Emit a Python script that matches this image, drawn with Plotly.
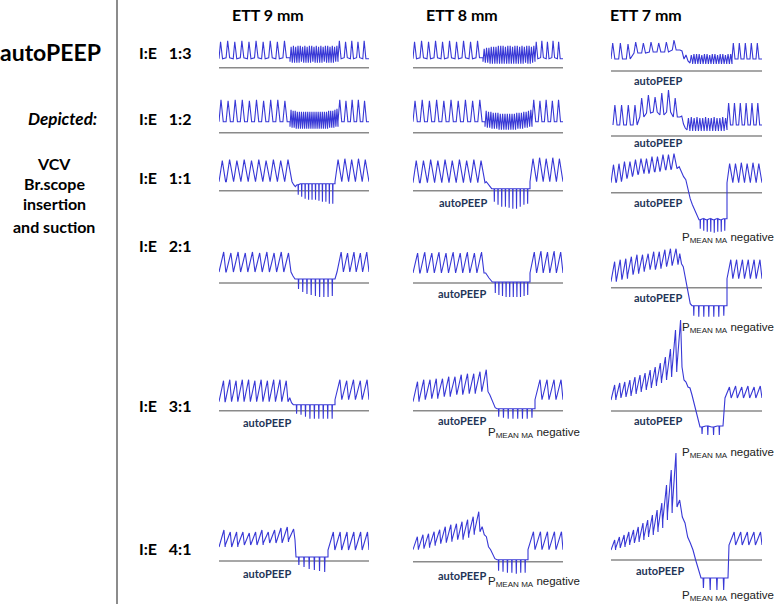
import plotly.graph_objects as go

W, H = 778, 604

# ---------------- labels ----------------
columns = ["ETT 9 mm", "ETT 8 mm", "ETT 7 mm"]
rows = ["I:E  1:3", "I:E  1:2", "I:E  1:1", "I:E  2:1", "I:E  3:1", "I:E  4:1"]

# ---------------- data (pressure, arbitrary units above the zero line) ----------------
# time marks per panel: [pre start, pre end, procedure start, procedure end, post start, post end]
# ETT 9 mm, I:E 1:3
c1r1_time = [0, 71, 71, 119, 119, 150]
c1r1_pre_peak = [26, 27, 26, 27, 26, 27, 26, 27, 26, 27]
c1r1_pre_trough = [9, 10, 9, 10, 9, 10, 9, 10, 9, 10]
c1r1_trans = []
c1r1_proc_hi = [21, 22, 21, 22, 22, 21, 22, 21, 22, 22, 21, 22, 21, 22, 21, 22, 22, 21, 22, 21, 22]
c1r1_proc_lo = [6, 5, 6, 5, 6, 6, 5, 6, 5, 6, 6, 5, 6, 5, 6, 6, 5, 6, 5, 6, 6]
c1r1_post_peak = [27, 26, 27, 26, 27]
c1r1_post_trough = [9, 10, 9, 10, 9]
# ETT 8 mm, I:E 1:3
c2r1_time = [0, 70, 70, 122, 122, 150]
c2r1_pre_peak = [26, 27, 26, 27, 26, 27, 26, 27, 26, 27]
c2r1_pre_trough = [9, 10, 9, 10, 9, 10, 9, 10, 9, 10]
c2r1_trans = []
c2r1_proc_hi = [19, 20, 20, 21, 21, 21, 22, 22, 22, 21, 22, 22, 21, 22, 22, 21, 22, 21, 22, 22, 21, 22]
c2r1_proc_lo = [6, 5, 5, 4, 5, 4, 5, 4, 4, 5, 4, 5, 4, 5, 4, 5, 4, 5, 5, 4, 5, 6]
c2r1_post_peak = [26, 27, 26, 27, 26]
c2r1_post_trough = [9, 10, 9, 10, 9]
# ETT 7 mm, I:E 1:3
c3r1_time = [0, 69, 79, 121, 121, 151]
c3r1_pre_peak = [28, 28, 27, 29, 28, 29, 28, 29, 31]
c3r1_pre_trough = [12, 12, 12, 18, 18, 19, 19, 19, 21]
c3r1_trans = [20, 12, 16, 10]
c3r1_proc_hi = [16, 17, 17, 17, 16, 17, 17, 16, 17, 17, 16, 17, 17, 16, 17, 17]
c3r1_proc_lo = [8, 7, 7, 7, 8, 7, 7, 7, 7, 8, 7, 7, 7, 7, 8, 7]
c3r1_post_peak = [28, 28, 28, 28, 28]
c3r1_post_trough = [12, 12, 12, 12, 12]
# ETT 9 mm, I:E 1:2
c1r2_time = [0, 71, 71, 119, 119, 150]
c1r2_pre_peak = [33, 32, 33, 33, 32, 33, 32, 33, 33, 32]
c1r2_pre_trough = [11, 11, 11, 11, 11, 11, 11, 11, 11, 11]
c1r2_trans = []
c1r2_proc_hi = [23, 22, 22, 21, 21, 21, 21, 21, 21, 21, 21, 21, 21, 21, 21, 21, 21, 21, 22, 22, 22, 23, 24]
c1r2_proc_lo = [6, 5, 5, 4, 4, 4, 4, 4, 4, 4, 4, 4, 4, 4, 4, 4, 4, 4, 5, 5, 5, 6, 6]
c1r2_post_peak = [33, 32, 33, 33, 32]
c1r2_post_trough = [11, 11, 11, 11, 11]
# ETT 8 mm, I:E 1:2
c2r2_time = [0, 72, 72, 119, 119, 150]
c2r2_pre_peak = [32, 33, 32, 33, 32, 33, 32, 33, 32, 33]
c2r2_pre_trough = [11, 11, 11, 11, 11, 11, 11, 11, 11, 11]
c2r2_trans = []
c2r2_proc_hi = [22, 21, 21, 20, 20, 20, 19, 19, 19, 19, 19, 19, 19, 20, 20, 20, 21, 21, 22, 23]
c2r2_proc_lo = [6, 5, 5, 4, 4, 4, 3, 3, 3, 3, 3, 3, 3, 4, 4, 4, 5, 5, 6, 6]
c2r2_post_peak = [33, 32, 33, 32, 33]
c2r2_post_trough = [11, 11, 11, 11, 11]
# ETT 7 mm, I:E 1:2
c3r2_time = [2, 69, 76, 116, 116, 151]
c3r2_pre_peak = [31, 31, 31, 31, 38, 41, 39, 43, 46, 38]
c3r2_pre_trough = [11, 11, 11, 11, 19, 23, 24, 21, 24, 19]
c3r2_trans = [20, 12, 8]
c3r2_proc_hi = [18, 19, 18, 19, 18, 18, 19, 18, 18, 19, 18, 18, 19, 18]
c3r2_proc_lo = [6, 5, 6, 5, 5, 6, 5, 5, 6, 5, 5, 6, 5, 6]
c3r2_post_peak = [33, 33, 33, 33, 33, 33]
c3r2_post_trough = [11, 11, 11, 11, 11, 11]
# ETT 9 mm, I:E 1:1
c1r3_time = [0, 73, 78, 116, 116, 150]
c1r3_pre_peak = [30, 31, 30, 31, 30, 31, 30, 31, 30, 31]
c1r3_pre_trough = [9, 9, 9, 9, 9, 9, 9, 9, 9, 9]
c1r3_trans = [6, 4]
c1r3_proc_hi = [6, 7, 7, 7, 7, 7, 7, 7, 7, 7, 7]
c1r3_proc_lo = [-4, -6, -8, -9, -9, -9, -10, -11, -11, -13, -13]
c1r3_post_peak = [31, 32, 31, 32, 31]
c1r3_post_trough = [9, 9, 9, 9, 9]
# ETT 8 mm, I:E 1:1
c2r3_time = [0, 72, 80, 117, 117, 150]
c2r3_pre_peak = [30, 30, 31, 30, 31, 30, 31, 30, 31, 30]
c2r3_pre_trough = [8, 8, 8, 8, 8, 8, 8, 8, 8, 8]
c2r3_trans = [9, 7, 5, 3, 2]
c2r3_proc_hi = [2, 2, 2, 2, 2, 2, 2, 2, 2, 2]
c2r3_proc_lo = [-11, -14, -16, -16, -17, -18, -18, -16, -14, -13]
c2r3_post_peak = [32, 33, 32, 33, 32]
c2r3_post_trough = [9, 9, 9, 9, 9]
# ETT 7 mm, I:E 1:1
c3r3_time = [0, 66, 88, 116, 116, 151]
c3r3_pre_peak = [28, 29, 31, 31, 33, 34, 34, 36, 36, 38, 38, 39]
c3r3_pre_trough = [10, 11, 14, 16, 18, 19, 19, 21, 21, 23, 23, 24]
c3r3_trans = [26, 21, 16, 13, 3, -6, -12, -17, -22]
c3r3_proc_hi = [-27, -26, -27, -26, -27, -26, -27, -26]
c3r3_proc_lo = [-36, -38, -39, -39, -40, -39, -39, -38]
c3r3_post_peak = [29, 29, 30, 29, 30, 29]
c3r3_post_trough = [10, 10, 10, 10, 10, 10]
# ETT 9 mm, I:E 2:1
c1r4_time = [0, 72, 78, 116, 118, 150]
c1r4_pre_peak = [31, 30, 31, 30, 31, 30, 31, 30, 31, 30]
c1r4_pre_trough = [11, 11, 11, 11, 11, 11, 11, 11, 11, 11]
c1r4_trans = [7, 4]
c1r4_proc_hi = [4, 4, 4, 4, 4, 4, 4, 4, 4]
c1r4_proc_lo = [-6, -9, -11, -12, -13, -14, -14, -14, -13]
c1r4_post_peak = [31, 30, 31, 30, 31]
c1r4_post_trough = [11, 11, 11, 11, 11]
# ETT 8 mm, I:E 2:1
c2r4_time = [0, 71, 81, 117, 117, 150]
c2r4_pre_peak = [30, 31, 30, 31, 30, 31, 30, 31, 30, 31]
c2r4_pre_trough = [10, 10, 10, 10, 10, 10, 10, 10, 10, 10]
c2r4_trans = [10, 7, 5, 3, 1]
c2r4_proc_hi = [1, 1, 1, 1, 1, 1, 1, 1, 1, 1]
c2r4_proc_lo = [-10, -12, -13, -14, -14, -14, -14, -14, -13, -12]
c2r4_post_peak = [31, 32, 31, 32, 31]
c2r4_post_trough = [10, 10, 10, 10, 10]
# ETT 7 mm, I:E 2:1
c3r4_time = [0, 67, 81, 116, 116, 151]
c3r4_pre_peak = [26, 28, 29, 31, 33, 33, 34, 36, 36, 38, 39, 39]
c3r4_pre_trough = [6, 8, 9, 13, 14, 16, 18, 18, 19, 21, 22, 23]
c3r4_trans = [34, 24, 21, 11, 1, -9, -16]
c3r4_proc_hi = [-18, -18, -18, -18, -18, -18, -18]
c3r4_proc_lo = [-28, -29, -29, -29, -29, -29, -28]
c3r4_post_peak = [28, 28, 28, 28, 28, 28]
c3r4_post_trough = [9, 9, 9, 9, 9, 9]
# ETT 9 mm, I:E 3:1
c1r5_time = [0, 69, 76, 116, 116, 150]
c1r5_pre_peak = [30, 31, 30, 31, 31, 30, 31, 30, 31, 31, 30]
c1r5_pre_trough = [9, 9, 9, 9, 9, 9, 9, 9, 9, 9, 9]
c1r5_trans = [13, 8, 6]
c1r5_proc_hi = [6, 6, 6, 6, 6, 6, 6, 6, 6]
c1r5_proc_lo = [-3, -4, -6, -8, -8, -8, -8, -8, -8]
c1r5_post_peak = [31, 30, 31, 30, 31]
c1r5_post_trough = [11, 11, 11, 11, 11]
# ETT 8 mm, I:E 3:1
c2r5_time = [0, 75, 84, 122, 122, 150]
c2r5_pre_peak = [29, 31, 31, 32, 32, 34, 34, 36, 37, 37, 39, 41]
c2r5_pre_trough = [9, 11, 12, 12, 14, 14, 16, 16, 17, 17, 19, 19]
c2r5_trans = [16, 11, 7, 3]
c2r5_proc_hi = [2, 2, 2, 2, 2, 2, 2, 2]
c2r5_proc_lo = [-6, -7, -8, -8, -8, -8, -8, -7]
c2r5_post_peak = [31, 31, 31, 31]
c2r5_post_trough = [11, 11, 11, 11]
# ETT 7 mm, I:E 3:1
c3r5_time = [0, 71, 89, 112, 114, 151]
c3r5_pre_peak = [26, 28, 29, 31, 34, 36, 38, 41, 44, 48, 54, 62, 81, 91]
c3r5_pre_trough = [11, 13, 14, 15, 17, 19, 21, 23, 25, 28, 31, 34, 39, 44]
c3r5_trans = [31, 29, 24, 23, 16, 8, -1, -9]
c3r5_proc_hi = [-16, -15, -16, -15]
c3r5_proc_lo = [-23, -24, -24, -24]
c3r5_post_peak = [24, 25, 24, 25, 24, 25]
c3r5_post_trough = [13, 13, 13, 13, 13, 13]
# ETT 9 mm, I:E 4:1
c1r6_time = [0, 76, 78, 109, 109, 150]
c1r6_pre_peak = [31, 29, 29, 29, 28, 29, 31, 29, 31, 33, 34, 32]
c1r6_pre_trough = [14, 16, 14, 16, 16, 16, 16, 18, 18, 18, 19, 21]
c1r6_trans = [4]
c1r6_proc_hi = [4, 4, 4, 4, 4, 4]
c1r6_proc_lo = [-4, -6, -8, -9, -10, -11]
c1r6_post_peak = [29, 29, 29, 29, 29, 29]
c1r6_post_trough = [11, 11, 11, 11, 11, 11]
# ETT 8 mm, I:E 4:1
c2r6_time = [0, 67, 84, 115, 115, 150]
c2r6_pre_peak = [25, 27, 28, 30, 32, 35, 37, 38, 40, 42, 45, 50]
c2r6_pre_trough = [12, 13, 14, 16, 18, 19, 20, 22, 22, 24, 27, 30]
c2r6_trans = [35, 27, 25, 15, 12, 7, 3]
c2r6_proc_hi = [2, 2, 2, 2, 2, 2, 2]
c2r6_proc_lo = [-9, -10, -11, -11, -12, -11, -11]
c2r6_post_peak = [30, 30, 30, 30, 30]
c2r6_post_trough = [12, 12, 12, 12, 12]
# ETT 7 mm, I:E 4:1
c3r6_time = [0, 66, 90, 117, 118, 151]
c3r6_pre_peak = [20, 23, 25, 28, 30, 33, 37, 40, 45, 50, 57, 75, 90, 107]
c3r6_pre_trough = [10, 12, 13, 15, 17, 18, 20, 23, 25, 28, 32, 40, 47, 53]
c3r6_trans = [60, 43, 37, 23, 17, 10, 0, -10]
c3r6_proc_hi = [-18, -18, -18, -18]
c3r6_proc_lo = [-28, -30, -30, -30]
c3r6_post_peak = [28, 28, 28, 28, 28]
c3r6_post_trough = [15, 15, 15, 15, 15]

# annotation groups (col index, row index)
autopeep_marks = [(2, 0), (2, 1), (1, 2), (2, 2), (1, 3), (2, 3), (0, 4), (1, 4), (2, 4), (0, 5), (1, 5), (2, 5)]
pmean_marks = [(2, 2), (2, 3), (2, 4), (1, 4), (1, 5), (2, 5)]

# ---------------- layout geometry (pixels) ----------------
col_x0 = [219, 413, 611]
col_w = [150, 150, 151]
base_y = [[67.7, 132.7, 190.7, 283, 410.7, 561],
          [67.7, 132.7, 190.7, 283, 410.7, 561.7],
          [71, 136, 192.7, 287.7, 411, 560]]
row_label_y = [53, 118, 177, 246, 405, 548]
col_head_x = [268, 462, 646]
autopeep_pos = {(2, 0): (658, 80), (2, 1): (658, 142), (1, 2): (463, 202), (2, 2): (658, 202),
                (1, 3): (462, 293), (2, 3): (658, 297), (0, 4): (267, 422), (1, 4): (462, 420),
                (2, 4): (658, 420), (0, 5): (267, 573), (1, 5): (462, 575), (2, 5): (660, 570)}
# right edge x, centre y of each "P mean negative" note
pmean_pos = {(2, 2): (776, 238), (2, 3): (776, 328), (2, 4): (776, 453), (1, 4): (582, 433),
             (1, 5): (582, 582), (2, 5): (776, 596)}
# breath shape per I:E row: (fraction of cycle at peak, fraction where trough is reached)
shape = [(0.22, 0.5), (0.28, 0.6), (0.45, 0.9), (0.65, 0.95), (0.72, 0.96), (0.78, 0.97)]

g = globals()


def breath_path(t0, t1, peaks, troughs, rise, fall):
    n = len(peaks)
    P = (t1 - t0) / n
    xs, ys = [], []
    for i in range(n):
        s = t0 + i * P
        xs += [s, s + rise * P, s + fall * P]
        ys += [troughs[i], peaks[i], troughs[i]]
    xs.append(t1)
    ys.append(troughs[-1])
    return xs, ys


def spike_path(t0, t1, levels, mins):
    n = len(levels)
    P = (t1 - t0) / n
    xs, ys = [], []
    for i in range(n):
        s = t0 + i * P
        xs += [s, s + 0.3 * P, s + 0.36 * P, s + 0.42 * P]
        ys += [levels[i], levels[i], mins[i], levels[i]]
    xs.append(t1)
    ys.append(levels[-1])
    return xs, ys


fig = go.Figure()
layout = {}
k = 0
for r in range(6):
    for c in range(3):
        k += 1
        p = f"c{c + 1}r{r + 1}"
        tm = g[p + "_time"]
        rise, fall = shape[r]
        xs, ys = breath_path(tm[0], tm[1], g[p + "_pre_peak"], g[p + "_pre_trough"], rise, fall)
        tr = g[p + "_trans"]
        for j, v in enumerate(tr):
            xs.append(tm[1] + (j + 1) * (tm[2] - tm[1]) / (len(tr) + 1))
            ys.append(v)
        if r < 2:
            px_, py_ = breath_path(tm[2], tm[3], g[p + "_proc_hi"], g[p + "_proc_lo"], 0.5, 1.0)
        else:
            px_, py_ = spike_path(tm[2], tm[3], g[p + "_proc_hi"], g[p + "_proc_lo"])
        xs += px_
        ys += py_
        qx, qy = breath_path(tm[4], tm[5], g[p + "_post_peak"], g[p + "_post_trough"], rise, fall)
        xs += qx
        ys += qy

        xa = "x" if k == 1 else f"x{k}"
        ya = "y" if k == 1 else f"y{k}"
        fig.add_trace(go.Scatter(x=[0, col_w[c]], y=[0, 0], mode="lines", xaxis=xa, yaxis=ya,
                                 line=dict(color="#8a8a8a", width=1.6), hoverinfo="skip"))
        fig.add_trace(go.Scatter(x=xs, y=ys, mode="lines", xaxis=xa, yaxis=ya,
                                 line=dict(color="#3838d6", width=1.1), hoverinfo="skip"))

        yb = base_y[c][r]
        hi = min(115, yb - 1)
        lo = -min(45, H - yb - 1)
        xd = [col_x0[c] / W, (col_x0[c] + col_w[c]) / W]
        yd = [1 - (yb - lo) / H, 1 - (yb - hi) / H]
        kx = "xaxis" if k == 1 else f"xaxis{k}"
        ky = "yaxis" if k == 1 else f"yaxis{k}"
        layout[kx] = dict(domain=xd, range=[0, col_w[c]], visible=False, anchor=ya, fixedrange=True)
        layout[ky] = dict(domain=yd, range=[lo, hi], visible=False, anchor=xa, fixedrange=True)

fig.update_layout(**layout)

ann = []


def px(x, y):
    return x / W, 1 - y / H


BODY = "Lato, 'Open Sans', sans-serif"
x, y = px(50, 52)
ann.append(dict(x=x, y=y, text="<b>autoPEEP</b>", font=dict(size=23, family=BODY, color="#000")))
x, y = px(63, 118)
ann.append(dict(x=x, y=y, text="<b><i>Depicted:</i></b>", font=dict(size=17, family=BODY, color="#000")))
for txt, yy in zip(["VCV", "Br.scope", "insertion", "and suction"], [163, 183, 204, 226]):
    x, y = px(54, yy)
    ann.append(dict(x=x, y=y, text=f"<b>{txt}</b>", font=dict(size=16, family=BODY, color="#000")))
for lab, yy in zip(rows, row_label_y):
    x, y = px(165, yy)
    ann.append(dict(x=x, y=y, text=f"<b>{lab.replace('  ', '&nbsp;&nbsp;&nbsp;')}</b>",
                    font=dict(size=16, family=BODY, color="#000")))
for lab, xx in zip(columns, col_head_x):
    x, y = px(xx, 15)
    ann.append(dict(x=x, y=y, text=f"<b>{lab}</b>", font=dict(size=16, family=BODY, color="#000")))
for key in autopeep_marks:
    x, y = px(*autopeep_pos[key])
    ann.append(dict(x=x, y=y, text="<b>autoPEEP</b>", font=dict(size=11, family=BODY, color="#1f3558")))
for key in pmean_marks:
    x, y = px(*pmean_pos[key])
    ann.append(dict(x=x, y=y, xanchor="right", text="P<sub>MEAN MA</sub> negative",
                    font=dict(size=11.5, family="Liberation Sans, Arial, sans-serif", color="#222")))
for a in ann:
    a.setdefault("xanchor", "center")
    a.update(xref="paper", yref="paper", yanchor="middle", showarrow=False)

fig.update_layout(
    width=W, height=H, margin=dict(l=0, r=0, t=0, b=0),
    paper_bgcolor="white", plot_bgcolor="rgba(0,0,0,0)", showlegend=False,
    annotations=ann, hovermode=False,
    shapes=[dict(type="line", xref="paper", yref="paper", x0=117 / W, x1=117 / W, y0=0, y1=1,
                 line=dict(color="#8c8c8c", width=2))],
)
fig.write_html("out.html", config={"displayModeBar": False},
               post_script="document.body.style.margin='0';document.body.style.overflow='hidden';")
